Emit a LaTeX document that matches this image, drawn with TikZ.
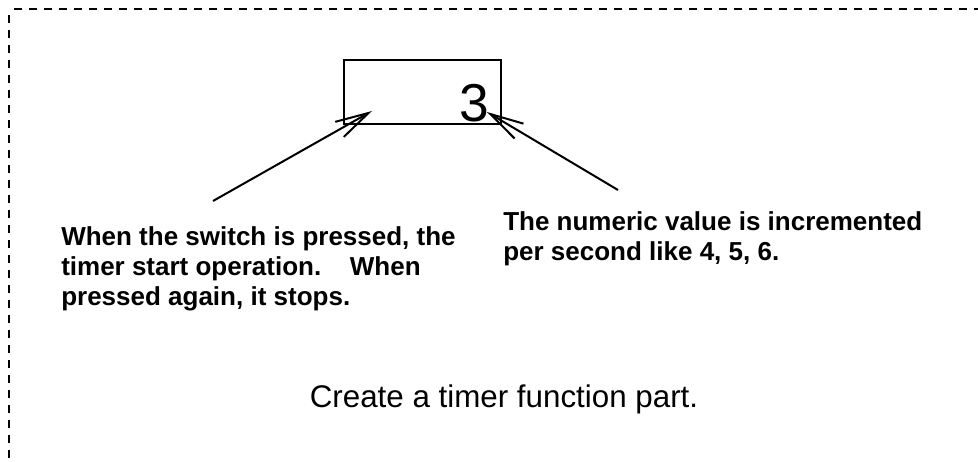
\documentclass[tikz,border=0pt]{standalone}
\usepackage{fontspec}
\setmainfont{Liberation Sans}
\usetikzlibrary{arrows.meta}

\begin{document}
\begin{tikzpicture}[
  x=0.75pt,y=-0.75pt,
  every node/.style={inner sep=0pt},
  note/.style={font=\fontsize{19.5}{22.5}\selectfont\bfseries,align=left,
               anchor=north west},
  disp/.style={draw,line width=1.6pt,minimum width=117.75pt,
               minimum height=48pt},
  arr/.style={-{Straight Barb[length=25pt,width=13pt]},line width=1.5pt},
  frame/.style={line width=2.2pt,dash pattern=on 6pt off 5.25pt,
                dash phase=6.75pt}
]
\useasboundingbox (0,0) rectangle (978,461);
\clip (0,0) rectangle (978,461);

% Dashed outer frame, running off the right and bottom edges.
\draw[frame] (9,9) rectangle (1100,600);

% Timer display.
\node[disp] (display) at (422.5,92) {};
\node[font=\fontsize{40}{40}\selectfont,anchor=base] (count) at (474.5,121) {3};

% Explanations.
\node[note] (switchnote) at (61,226)
  {When the switch is pressed, the\\timer start operation.\hspace{1.1em}When\\pressed again, it stops.};
\node[note] (countnote) at (503,211)
  {The numeric value is incremented\\per second like 4, 5, 6.};

% Arrows to the display.
\coordinate (switchtail) at (213,201);
\coordinate (switchtip)  at (372,111);
\coordinate (counttail)  at (618,190);
\coordinate (counttip)   at (487,112);
\draw[arr] (switchtail) -- (switchtip);
\draw[arr] (counttail)  -- (counttip);

% Caption.
\node[font=\fontsize{23.5}{28}\selectfont,anchor=base] (title) at (504,407)
  {Create a timer function part.};
\end{tikzpicture}
\end{document}
